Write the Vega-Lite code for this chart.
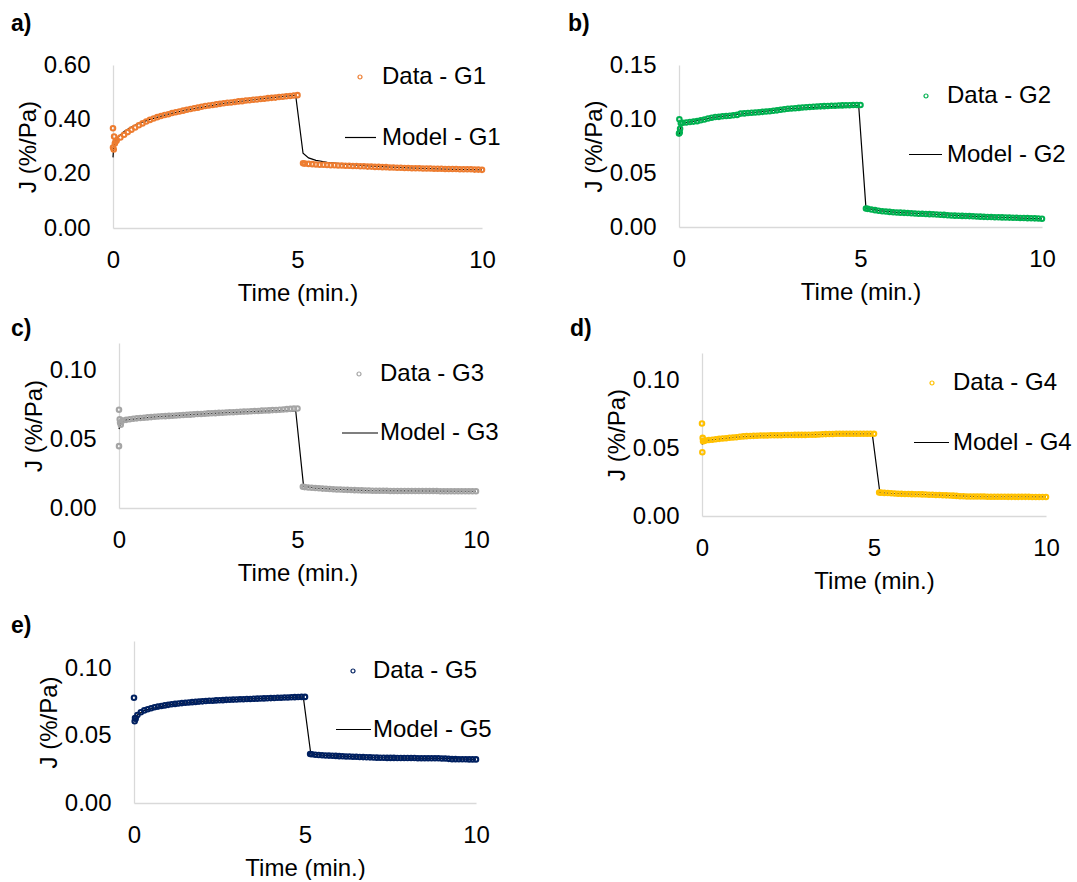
{
"$schema": "https://vega.github.io/schema/vega-lite/v6.json",
"padding": {"left": 11, "top": 13, "right": 0, "bottom": 0},
"datasets": {
"pa": [{"t":0,"j":0.367},{"t":0,"j":0.296},{"t":0.02,"j":0.289},{"t":0.03,"j":0.337},{"t":0.05,"j":0.311},{"t":0.07,"j":0.318},
{"t":0.1,"j":0.322},{"t":0.2,"j":0.333},{"t":0.3,"j":0.343},{"t":0.4,"j":0.353},{"t":0.5,"j":0.362},{"t":0.6,"j":0.370},{"t":0.7,"j":0.378},{"t":0.8,"j":0.385},{"t":0.9,"j":0.392},{"t":1.0,"j":0.398},
{"t":1.1,"j":0.403},{"t":1.2,"j":0.408},{"t":1.3,"j":0.412},{"t":1.4,"j":0.416},{"t":1.5,"j":0.419},{"t":1.6,"j":0.423},{"t":1.7,"j":0.426},{"t":1.8,"j":0.429},{"t":1.9,"j":0.432},{"t":2.0,"j":0.435},
{"t":2.1,"j":0.438},{"t":2.2,"j":0.441},{"t":2.3,"j":0.443},{"t":2.4,"j":0.446},{"t":2.5,"j":0.449},{"t":2.6,"j":0.451},{"t":2.7,"j":0.453},{"t":2.8,"j":0.455},{"t":2.9,"j":0.457},{"t":3.0,"j":0.459},
{"t":3.1,"j":0.461},{"t":3.2,"j":0.462},{"t":3.3,"j":0.464},{"t":3.4,"j":0.466},{"t":3.5,"j":0.467},{"t":3.6,"j":0.469},{"t":3.7,"j":0.470},{"t":3.8,"j":0.472},{"t":3.9,"j":0.473},{"t":4.0,"j":0.475},
{"t":4.1,"j":0.476},{"t":4.2,"j":0.478},{"t":4.3,"j":0.479},{"t":4.4,"j":0.480},{"t":4.5,"j":0.482},{"t":4.6,"j":0.483},{"t":4.7,"j":0.485},{"t":4.8,"j":0.486},{"t":4.9,"j":0.488},{"t":5.0,"j":0.489},
{"t":5.15,"j":0.238},{"t":5.2,"j":0.237},{"t":5.3,"j":0.236},{"t":5.4,"j":0.235},{"t":5.5,"j":0.234},{"t":5.6,"j":0.233},{"t":5.7,"j":0.233},{"t":5.8,"j":0.232},{"t":5.9,"j":0.231},{"t":6.0,"j":0.231},
{"t":6.1,"j":0.230},{"t":6.2,"j":0.230},{"t":6.3,"j":0.229},{"t":6.4,"j":0.229},{"t":6.5,"j":0.228},{"t":6.6,"j":0.228},{"t":6.7,"j":0.227},{"t":6.8,"j":0.227},{"t":6.9,"j":0.226},{"t":7.0,"j":0.226},
{"t":7.1,"j":0.225},{"t":7.2,"j":0.225},{"t":7.3,"j":0.224},{"t":7.4,"j":0.224},{"t":7.5,"j":0.223},{"t":7.6,"j":0.223},{"t":7.7,"j":0.222},{"t":7.8,"j":0.222},{"t":7.9,"j":0.221},{"t":8.0,"j":0.221},
{"t":8.1,"j":0.220},{"t":8.2,"j":0.220},{"t":8.3,"j":0.220},{"t":8.4,"j":0.219},{"t":8.5,"j":0.219},{"t":8.6,"j":0.219},{"t":8.7,"j":0.218},{"t":8.8,"j":0.218},{"t":8.9,"j":0.218},{"t":9.0,"j":0.217},
{"t":9.1,"j":0.217},{"t":9.2,"j":0.217},{"t":9.3,"j":0.217},{"t":9.4,"j":0.216},{"t":9.5,"j":0.216},{"t":9.6,"j":0.216},{"t":9.7,"j":0.216},{"t":9.8,"j":0.215},{"t":9.9,"j":0.215},{"t":10.0,"j":0.214}],
"ma": [{"t":0,"j":0.26},{"t":0.02,"j":0.30},{"t":0.1,"j":0.33},{"t":0.3,"j":0.355},{"t":0.5,"j":0.372},{"t":0.7,"j":0.385},{"t":1.0,"j":0.400},{"t":1.5,"j":0.419},{"t":2.0,"j":0.435},{"t":3.0,"j":0.459},{"t":4.0,"j":0.475},{"t":4.95,"j":0.489},{"t":5.15,"j":0.275},{"t":5.3,"j":0.258},{"t":5.5,"j":0.249},{"t":5.8,"j":0.242},{"t":6.2,"j":0.236},{"t":7.0,"j":0.228},{"t":8.0,"j":0.221},{"t":9.0,"j":0.217},{"t":10.0,"j":0.214}],
"pb": [{"t":0,"j":0.0865},{"t":0.01,"j":0.0998},{"t":0.02,"j":0.0875},{"t":0.03,"j":0.091},{"t":0.05,"j":0.096},
{"t":0.1,"j":0.0965},{"t":0.2,"j":0.0968},{"t":0.3,"j":0.0972},{"t":0.4,"j":0.0976},{"t":0.5,"j":0.098},{"t":0.6,"j":0.0988},{"t":0.7,"j":0.0995},{"t":0.8,"j":0.1005},{"t":0.9,"j":0.1012},{"t":1.0,"j":0.1018},
{"t":1.1,"j":0.102},{"t":1.2,"j":0.1025},{"t":1.3,"j":0.1028},{"t":1.4,"j":0.103},{"t":1.5,"j":0.1035},{"t":1.6,"j":0.1038},{"t":1.7,"j":0.105},{"t":1.8,"j":0.1052},{"t":1.9,"j":0.1055},{"t":2.0,"j":0.1058},
{"t":2.1,"j":0.106},{"t":2.2,"j":0.1063},{"t":2.3,"j":0.1066},{"t":2.4,"j":0.1069},{"t":2.5,"j":0.1072},{"t":2.6,"j":0.1076},{"t":2.7,"j":0.108},{"t":2.8,"j":0.1085},{"t":2.9,"j":0.109},{"t":3.0,"j":0.1095},
{"t":3.1,"j":0.1098},{"t":3.2,"j":0.11},{"t":3.3,"j":0.1103},{"t":3.4,"j":0.1106},{"t":3.5,"j":0.1109},{"t":3.6,"j":0.1111},{"t":3.7,"j":0.1113},{"t":3.8,"j":0.1115},{"t":3.9,"j":0.1117},{"t":4.0,"j":0.1119},
{"t":4.1,"j":0.112},{"t":4.2,"j":0.1122},{"t":4.3,"j":0.1123},{"t":4.4,"j":0.1125},{"t":4.5,"j":0.1126},{"t":4.6,"j":0.1127},{"t":4.7,"j":0.1128},{"t":4.8,"j":0.1129},{"t":4.9,"j":0.113},{"t":5.0,"j":0.113},
{"t":5.15,"j":0.0172},{"t":5.2,"j":0.0168},{"t":5.3,"j":0.0162},{"t":5.4,"j":0.0156},{"t":5.5,"j":0.0150},{"t":5.6,"j":0.0146},{"t":5.7,"j":0.0143},{"t":5.8,"j":0.0140},{"t":5.9,"j":0.0137},{"t":6.0,"j":0.0135},
{"t":6.1,"j":0.0133},{"t":6.2,"j":0.0131},{"t":6.3,"j":0.0129},{"t":6.4,"j":0.0127},{"t":6.5,"j":0.0125},{"t":6.6,"j":0.0123},{"t":6.7,"j":0.0122},{"t":6.8,"j":0.0120},{"t":6.9,"j":0.0119},{"t":7.0,"j":0.0118},
{"t":7.1,"j":0.0116},{"t":7.2,"j":0.0114},{"t":7.3,"j":0.0112},{"t":7.4,"j":0.0109},{"t":7.5,"j":0.0106},{"t":7.6,"j":0.0105},{"t":7.7,"j":0.0104},{"t":7.8,"j":0.0103},{"t":7.9,"j":0.0102},{"t":8.0,"j":0.0101},
{"t":8.1,"j":0.0100},{"t":8.2,"j":0.0098},{"t":8.3,"j":0.0096},{"t":8.4,"j":0.0094},{"t":8.5,"j":0.0093},{"t":8.6,"j":0.0092},{"t":8.7,"j":0.0091},{"t":8.8,"j":0.0090},{"t":8.9,"j":0.0089},{"t":9.0,"j":0.0088},
{"t":9.1,"j":0.0087},{"t":9.2,"j":0.0086},{"t":9.3,"j":0.0085},{"t":9.4,"j":0.0084},{"t":9.5,"j":0.0083},{"t":9.6,"j":0.0082},{"t":9.7,"j":0.0081},{"t":9.8,"j":0.0080},{"t":9.9,"j":0.0079},{"t":10.0,"j":0.0076}],
"mb": [{"t":0,"j":0.084},{"t":0.05,"j":0.094},{"t":0.2,"j":0.0967},{"t":1.0,"j":0.1018},{"t":2.0,"j":0.1058},{"t":3.0,"j":0.1095},{"t":4.0,"j":0.1112},{"t":4.95,"j":0.1125},{"t":5.15,"j":0.0177},{"t":5.5,"j":0.0152},{"t":6.0,"j":0.0135},{"t":7.0,"j":0.0118},{"t":8.0,"j":0.0101},{"t":9.0,"j":0.0088},{"t":10.0,"j":0.0076}],
"pc": [{"t":0,"j":0.0715},{"t":0,"j":0.045},{"t":0.02,"j":0.0646},{"t":0.03,"j":0.0622},{"t":0.05,"j":0.0605},
{"t":0.1,"j":0.0636},{"t":0.2,"j":0.0641},{"t":0.3,"j":0.0645},{"t":0.4,"j":0.0649},{"t":0.5,"j":0.0652},{"t":0.6,"j":0.0655},{"t":0.7,"j":0.0657},{"t":0.8,"j":0.0659},{"t":0.9,"j":0.0661},{"t":1.0,"j":0.0663},
{"t":1.1,"j":0.0665},{"t":1.2,"j":0.0667},{"t":1.3,"j":0.0668},{"t":1.4,"j":0.067},{"t":1.5,"j":0.0671},{"t":1.6,"j":0.0673},{"t":1.7,"j":0.0675},{"t":1.8,"j":0.0676},{"t":1.9,"j":0.0678},{"t":2.0,"j":0.0679},
{"t":2.1,"j":0.0681},{"t":2.2,"j":0.0683},{"t":2.3,"j":0.0684},{"t":2.4,"j":0.0686},{"t":2.5,"j":0.0688},{"t":2.6,"j":0.0689},{"t":2.7,"j":0.069},{"t":2.8,"j":0.0692},{"t":2.9,"j":0.0693},{"t":3.0,"j":0.0694},
{"t":3.1,"j":0.0696},{"t":3.2,"j":0.0697},{"t":3.3,"j":0.0698},{"t":3.4,"j":0.07},{"t":3.5,"j":0.0701},{"t":3.6,"j":0.0702},{"t":3.7,"j":0.0704},{"t":3.8,"j":0.0705},{"t":3.9,"j":0.0706},{"t":4.0,"j":0.0708},
{"t":4.1,"j":0.0709},{"t":4.2,"j":0.071},{"t":4.3,"j":0.0712},{"t":4.4,"j":0.0713},{"t":4.5,"j":0.0715},{"t":4.6,"j":0.0717},{"t":4.7,"j":0.0719},{"t":4.8,"j":0.0721},{"t":4.9,"j":0.0723},{"t":5.0,"j":0.0724},
{"t":5.15,"j":0.0155},{"t":5.2,"j":0.0152},{"t":5.3,"j":0.0149},{"t":5.4,"j":0.0147},{"t":5.5,"j":0.0145},{"t":5.6,"j":0.0143},{"t":5.7,"j":0.0141},{"t":5.8,"j":0.014},{"t":5.9,"j":0.0138},{"t":6.0,"j":0.0137},
{"t":6.1,"j":0.0135},{"t":6.2,"j":0.0134},{"t":6.3,"j":0.0133},{"t":6.4,"j":0.0132},{"t":6.5,"j":0.0131},{"t":6.6,"j":0.013},{"t":6.7,"j":0.0129},{"t":6.8,"j":0.0128},{"t":6.9,"j":0.0127},{"t":7.0,"j":0.0127},
{"t":7.1,"j":0.0126},{"t":7.2,"j":0.0126},{"t":7.3,"j":0.0125},{"t":7.4,"j":0.0125},{"t":7.5,"j":0.0125},{"t":7.6,"j":0.0124},{"t":7.7,"j":0.0124},{"t":7.8,"j":0.0124},{"t":7.9,"j":0.0124},{"t":8.0,"j":0.0124},
{"t":8.1,"j":0.0124},{"t":8.2,"j":0.0123},{"t":8.3,"j":0.0123},{"t":8.4,"j":0.0123},{"t":8.5,"j":0.0123},{"t":8.6,"j":0.0123},{"t":8.7,"j":0.0123},{"t":8.8,"j":0.0123},{"t":8.9,"j":0.0123},{"t":9.0,"j":0.0122},
{"t":9.1,"j":0.0122},{"t":9.2,"j":0.0122},{"t":9.3,"j":0.0122},{"t":9.4,"j":0.0122},{"t":9.5,"j":0.0122},{"t":9.6,"j":0.0122},{"t":9.7,"j":0.0122},{"t":9.8,"j":0.0122},{"t":9.9,"j":0.0122},{"t":10.0,"j":0.0122}],
"mc": [{"t":0,"j":0.0573},{"t":0.05,"j":0.062},{"t":0.2,"j":0.0641},{"t":1.0,"j":0.0663},{"t":2.0,"j":0.0679},{"t":3.0,"j":0.0694},{"t":4.0,"j":0.0705},{"t":4.8,"j":0.0708},{"t":4.95,"j":0.0707},{"t":5.17,"j":0.0159},{"t":5.5,"j":0.0145},{"t":6.0,"j":0.0137},{"t":7.0,"j":0.0127},{"t":8.0,"j":0.0124},{"t":10.0,"j":0.0122}],
"pd": [{"t":0,"j":0.0681},{"t":0.01,"j":0.0469},{"t":0.02,"j":0.0575},{"t":0.03,"j":0.055},{"t":0.05,"j":0.0553},
{"t":0.1,"j":0.0556},{"t":0.2,"j":0.0559},{"t":0.3,"j":0.0562},{"t":0.4,"j":0.0565},{"t":0.5,"j":0.0568},{"t":0.6,"j":0.0571},{"t":0.7,"j":0.0573},{"t":0.8,"j":0.0576},{"t":0.9,"j":0.0578},{"t":1.0,"j":0.058},
{"t":1.1,"j":0.0583},{"t":1.2,"j":0.0586},{"t":1.3,"j":0.0588},{"t":1.4,"j":0.0589},{"t":1.5,"j":0.059},{"t":1.6,"j":0.0591},{"t":1.7,"j":0.0592},{"t":1.8,"j":0.0592},{"t":1.9,"j":0.0593},{"t":2.0,"j":0.0594},
{"t":2.1,"j":0.0594},{"t":2.2,"j":0.0595},{"t":2.3,"j":0.0595},{"t":2.4,"j":0.0596},{"t":2.5,"j":0.0596},{"t":2.6,"j":0.0596},{"t":2.7,"j":0.0597},{"t":2.8,"j":0.0597},{"t":2.9,"j":0.0597},{"t":3.0,"j":0.0597},
{"t":3.1,"j":0.0598},{"t":3.2,"j":0.0598},{"t":3.3,"j":0.0599},{"t":3.4,"j":0.06},{"t":3.5,"j":0.0602},{"t":3.6,"j":0.0603},{"t":3.7,"j":0.0604},{"t":3.8,"j":0.0604},{"t":3.9,"j":0.0605},{"t":4.0,"j":0.0605},
{"t":4.1,"j":0.0605},{"t":4.2,"j":0.0605},{"t":4.3,"j":0.0605},{"t":4.4,"j":0.0606},{"t":4.5,"j":0.0606},{"t":4.6,"j":0.0606},{"t":4.7,"j":0.0606},{"t":4.8,"j":0.0606},{"t":4.9,"j":0.0606},{"t":5.0,"j":0.0605},
{"t":5.15,"j":0.0173},{"t":5.2,"j":0.0172},{"t":5.3,"j":0.017},{"t":5.4,"j":0.0169},{"t":5.5,"j":0.0167},{"t":5.6,"j":0.0166},{"t":5.7,"j":0.0164},{"t":5.8,"j":0.0163},{"t":5.9,"j":0.0162},{"t":6.0,"j":0.0162},
{"t":6.1,"j":0.0161},{"t":6.2,"j":0.016},{"t":6.3,"j":0.016},{"t":6.4,"j":0.0159},{"t":6.5,"j":0.0158},{"t":6.6,"j":0.0157},{"t":6.7,"j":0.0156},{"t":6.8,"j":0.0155},{"t":6.9,"j":0.0154},{"t":7.0,"j":0.0153},
{"t":7.1,"j":0.0152},{"t":7.2,"j":0.0151},{"t":7.3,"j":0.015},{"t":7.4,"j":0.0148},{"t":7.5,"j":0.0146},{"t":7.6,"j":0.0145},{"t":7.7,"j":0.0144},{"t":7.8,"j":0.0144},{"t":7.9,"j":0.0143},{"t":8.0,"j":0.0143},
{"t":8.1,"j":0.0143},{"t":8.2,"j":0.0143},{"t":8.3,"j":0.0142},{"t":8.4,"j":0.0142},{"t":8.5,"j":0.0142},{"t":8.6,"j":0.0142},{"t":8.7,"j":0.0142},{"t":8.8,"j":0.0142},{"t":8.9,"j":0.0141},{"t":9.0,"j":0.0141},
{"t":9.1,"j":0.0141},{"t":9.2,"j":0.0141},{"t":9.3,"j":0.0141},{"t":9.4,"j":0.0141},{"t":9.5,"j":0.0141},{"t":9.6,"j":0.014},{"t":9.7,"j":0.014},{"t":9.8,"j":0.014},{"t":9.9,"j":0.014},{"t":10.0,"j":0.014}],
"md": [{"t":0,"j":0.0526},{"t":0.05,"j":0.0553},{"t":0.2,"j":0.0559},{"t":1.0,"j":0.058},{"t":2.0,"j":0.0594},{"t":3.0,"j":0.0597},{"t":4.0,"j":0.0605},{"t":4.95,"j":0.0604},{"t":5.17,"j":0.0173},{"t":5.5,"j":0.0167},{"t":6.0,"j":0.0162},{"t":7.0,"j":0.0153},{"t":8.0,"j":0.0143},{"t":10.0,"j":0.0141}],
"pe": [{"t":0,"j":0.078},{"t":0.02,"j":0.0605},{"t":0.03,"j":0.063},{"t":0.05,"j":0.0625},
{"t":0.1,"j":0.0652},{"t":0.2,"j":0.0672},{"t":0.3,"j":0.0686},{"t":0.4,"j":0.0695},{"t":0.5,"j":0.0702},{"t":0.6,"j":0.0709},{"t":0.7,"j":0.0714},{"t":0.8,"j":0.0719},{"t":0.9,"j":0.0723},{"t":1.0,"j":0.0727},
{"t":1.1,"j":0.0731},{"t":1.2,"j":0.0734},{"t":1.3,"j":0.0737},{"t":1.4,"j":0.074},{"t":1.5,"j":0.0742},{"t":1.6,"j":0.0745},{"t":1.7,"j":0.0747},{"t":1.8,"j":0.0749},{"t":1.9,"j":0.0751},{"t":2.0,"j":0.0753},
{"t":2.1,"j":0.0755},{"t":2.2,"j":0.0757},{"t":2.3,"j":0.0758},{"t":2.4,"j":0.076},{"t":2.5,"j":0.0761},{"t":2.6,"j":0.0762},{"t":2.7,"j":0.0764},{"t":2.8,"j":0.0765},{"t":2.9,"j":0.0766},{"t":3.0,"j":0.0767},
{"t":3.1,"j":0.0768},{"t":3.2,"j":0.0769},{"t":3.3,"j":0.077},{"t":3.4,"j":0.0771},{"t":3.5,"j":0.0772},{"t":3.6,"j":0.0773},{"t":3.7,"j":0.0774},{"t":3.8,"j":0.0775},{"t":3.9,"j":0.0776},{"t":4.0,"j":0.0777},
{"t":4.1,"j":0.0778},{"t":4.2,"j":0.0779},{"t":4.3,"j":0.078},{"t":4.4,"j":0.0781},{"t":4.5,"j":0.0782},{"t":4.6,"j":0.0783},{"t":4.7,"j":0.0784},{"t":4.8,"j":0.0785},{"t":4.9,"j":0.0786},{"t":5.0,"j":0.0786},
{"t":5.15,"j":0.0363},{"t":5.2,"j":0.0361},{"t":5.3,"j":0.0358},{"t":5.4,"j":0.0356},{"t":5.5,"j":0.0354},{"t":5.6,"j":0.0352},{"t":5.7,"j":0.0351},{"t":5.8,"j":0.035},{"t":5.9,"j":0.0349},{"t":6.0,"j":0.0347},
{"t":6.1,"j":0.0346},{"t":6.2,"j":0.0345},{"t":6.3,"j":0.0344},{"t":6.4,"j":0.0343},{"t":6.5,"j":0.0342},{"t":6.6,"j":0.0341},{"t":6.7,"j":0.034},{"t":6.8,"j":0.0339},{"t":6.9,"j":0.0338},{"t":7.0,"j":0.0337},
{"t":7.1,"j":0.0336},{"t":7.2,"j":0.0335},{"t":7.3,"j":0.0335},{"t":7.4,"j":0.0334},{"t":7.5,"j":0.0334},{"t":7.6,"j":0.0334},{"t":7.7,"j":0.0333},{"t":7.8,"j":0.0333},{"t":7.9,"j":0.0333},{"t":8.0,"j":0.0333},
{"t":8.1,"j":0.0333},{"t":8.2,"j":0.0333},{"t":8.3,"j":0.0332},{"t":8.4,"j":0.0332},{"t":8.5,"j":0.0332},{"t":8.6,"j":0.0332},{"t":8.7,"j":0.0331},{"t":8.8,"j":0.0331},{"t":8.9,"j":0.0331},{"t":9.0,"j":0.033},
{"t":9.1,"j":0.0329},{"t":9.2,"j":0.0327},{"t":9.3,"j":0.0325},{"t":9.4,"j":0.0325},{"t":9.5,"j":0.0324},{"t":9.6,"j":0.0324},{"t":9.7,"j":0.0324},{"t":9.8,"j":0.0323},{"t":9.9,"j":0.0323},{"t":10.0,"j":0.0323}],
"me": [{"t":0,"j":0.0605},{"t":0.05,"j":0.0625},{"t":0.1,"j":0.0652},{"t":0.3,"j":0.0686},{"t":1.0,"j":0.0727},{"t":2.0,"j":0.0753},{"t":3.0,"j":0.0767},{"t":4.0,"j":0.0777},{"t":4.95,"j":0.0786},{"t":5.17,"j":0.0363},{"t":5.5,"j":0.0354},{"t":6.0,"j":0.0347},{"t":7.0,"j":0.0337},{"t":8.0,"j":0.0333},{"t":9.0,"j":0.033},{"t":10.0,"j":0.0323}]
},
"concat": [
{"concat": [
{"width": 369, "height": 163,
 "title": {"text": "a)", "dx": -102, "offset": 17},
 "layer": [
  {"data": {"name": "ma"}, "mark": {"type": "line", "strokeWidth": 1.2},
   "encoding": {
    "x": {"field": "t", "type": "quantitative", "scale": {"domain": [0, 10], "nice": false, "zero": false}, "axis": {"values": [0, 5, 10], "title": "Time (min.)"}},
    "y": {"field": "j", "type": "quantitative", "scale": {"domain": [0, 0.6], "nice": false}, "axis": {"values": [0, 0.2, 0.4, 0.6], "format": ".2f", "title": "J (%/Pa)"}},
    "stroke": {"datum": "Model - G1", "scale": {"range": ["#000000"]}, "legend": {"title": null, "orient": "none", "legendX": 231, "legendY": 56, "symbolType": "stroke", "symbolSize": 961, "symbolStrokeWidth": 1.2, "labelOffset": 5}}}},
  {"data": {"name": "pa"}, "mark": {"type": "point", "filled": false, "size": 20, "strokeWidth": 2.1, "opacity": 1},
   "encoding": {
    "x": {"field": "t", "type": "quantitative"},
    "y": {"field": "j", "type": "quantitative"},
    "color": {"datum": "Data - G1", "scale": {"range": ["#ED7D31"]}, "legend": {"title": null, "orient": "none", "legendX": 235, "legendY": 0, "symbolType": "circle", "symbolSize": 16, "symbolStrokeWidth": 1.2, "labelOffset": 10}}}}
 ]},
{"width": 363, "height": 162,
 "title": {"text": "b)", "dx": -111, "offset": 17},
 "layer": [
  {"data": {"name": "mb"}, "mark": {"type": "line", "strokeWidth": 1.2},
   "encoding": {
    "x": {"field": "t", "type": "quantitative", "scale": {"domain": [0, 10], "nice": false, "zero": false}, "axis": {"values": [0, 5, 10], "title": "Time (min.)"}},
    "y": {"field": "j", "type": "quantitative", "scale": {"domain": [0, 0.15], "nice": false}, "axis": {"values": [0, 0.05, 0.1, 0.15], "format": ".2f", "title": "J (%/Pa)"}},
    "stroke": {"datum": "Model - G2", "scale": {"range": ["#000000"]}, "legend": {"title": null, "orient": "none", "legendX": 229, "legendY": 72, "symbolType": "stroke", "symbolSize": 1089, "symbolStrokeWidth": 1.2, "labelOffset": 4}}}},
  {"data": {"name": "pb"}, "mark": {"type": "point", "filled": false, "size": 20, "strokeWidth": 2.1, "opacity": 1},
   "encoding": {
    "x": {"field": "t", "type": "quantitative"},
    "y": {"field": "j", "type": "quantitative"},
    "color": {"datum": "Data - G2", "scale": {"range": ["#00B050"]}, "legend": {"title": null, "orient": "none", "legendX": 235, "legendY": 19, "symbolType": "circle", "symbolSize": 16, "symbolStrokeWidth": 1.2, "labelOffset": 9}}}}
 ]}
], "columns": 2, "align": "none", "spacing": 67, "resolve": {"scale": {"color": "independent", "stroke": "independent"}, "legend": {"color": "independent", "stroke": "independent"}}},
{"concat": [
{"width": 363, "height": 165,
 "title": {"text": "c)", "dx": -102, "offset": 2},
 "layer": [
  {"data": {"name": "mc"}, "mark": {"type": "line", "strokeWidth": 1.2},
   "encoding": {
    "x": {"field": "t", "type": "quantitative", "scale": {"domain": [0, 10], "nice": false, "zero": false, "range": [6, 363]}, "axis": {"values": [0, 5, 10], "title": "Time (min.)"}},
    "y": {"field": "j", "type": "quantitative", "scale": {"domain": [0, 0.12], "nice": false}, "axis": {"values": [0, 0.05, 0.1], "format": ".2f", "title": "J (%/Pa)", "offset": -6}},
    "stroke": {"datum": "Model - G3", "scale": {"range": ["#000000"]}, "legend": {"title": null, "orient": "none", "legendX": 228, "legendY": 71, "symbolType": "stroke", "symbolSize": 1296, "symbolStrokeWidth": 1.2, "labelOffset": 1}}}},
  {"data": {"name": "pc"}, "mark": {"type": "point", "filled": false, "size": 20, "strokeWidth": 2.1, "opacity": 1},
   "encoding": {
    "x": {"field": "t", "type": "quantitative"},
    "y": {"field": "j", "type": "quantitative"},
    "color": {"datum": "Data - G3", "scale": {"range": ["#A5A5A5"]}, "legend": {"title": null, "orient": "none", "legendX": 234, "legendY": 19, "symbolType": "circle", "symbolSize": 16, "symbolStrokeWidth": 1.2, "labelOffset": 9}}}}
 ]},
{"width": 344, "height": 173,
 "title": {"text": "d)", "dx": -132, "offset": 2},
 "layer": [
  {"data": {"name": "md"}, "mark": {"type": "line", "strokeWidth": 1.2},
   "encoding": {
    "x": {"field": "t", "type": "quantitative", "scale": {"domain": [0, 10], "nice": false, "zero": false}, "axis": {"values": [0, 5, 10], "title": "Time (min.)"}},
    "y": {"field": "j", "type": "quantitative", "scale": {"domain": [0, 0.12], "nice": false, "range": [173, 10]}, "axis": {"values": [0, 0.05, 0.1], "format": ".2f", "title": "J (%/Pa)"}},
    "stroke": {"datum": "Model - G4", "scale": {"range": ["#000000"]}, "legend": {"title": null, "orient": "none", "legendX": 211, "legendY": 81, "symbolType": "stroke", "symbolSize": 1225, "symbolStrokeWidth": 1.2, "labelOffset": 3}}}},
  {"data": {"name": "pd"}, "mark": {"type": "point", "filled": false, "size": 20, "strokeWidth": 2.1, "opacity": 1},
   "encoding": {
    "x": {"field": "t", "type": "quantitative"},
    "y": {"field": "j", "type": "quantitative"},
    "color": {"datum": "Data - G4", "scale": {"range": ["#FFC000"]}, "legend": {"title": null, "orient": "none", "legendX": 218, "legendY": 28, "symbolType": "circle", "symbolSize": 16, "symbolStrokeWidth": 1.2, "labelOffset": 9}}}}
 ]}
], "columns": 2, "align": "none", "spacing": 71, "resolve": {"scale": {"color": "independent", "stroke": "independent"}, "legend": {"color": "independent", "stroke": "independent"}}},
{"width": 363, "height": 162,
 "title": {"text": ["", "e)"], "lineHeight": 9, "dx": -102, "offset": 3},
 "layer": [
  {"data": {"name": "me"}, "mark": {"type": "line", "strokeWidth": 1.2},
   "encoding": {
    "x": {"field": "t", "type": "quantitative", "scale": {"domain": [0, 10], "nice": false, "zero": false, "range": [21, 363]}, "axis": {"values": [0, 5, 10], "title": "Time (min.)"}},
    "y": {"field": "j", "type": "quantitative", "scale": {"domain": [0, 0.12], "nice": false}, "axis": {"values": [0, 0.05, 0.1], "format": ".2f", "title": "J (%/Pa)", "offset": -21}},
    "stroke": {"datum": "Model - G5", "scale": {"range": ["#000000"]}, "legend": {"title": null, "orient": "none", "legendX": 222, "legendY": 70, "symbolType": "stroke", "symbolSize": 1225, "symbolStrokeWidth": 1.2, "labelOffset": 1}}}},
  {"data": {"name": "pe"}, "mark": {"type": "point", "filled": false, "size": 20, "strokeWidth": 2.1, "opacity": 1},
   "encoding": {
    "x": {"field": "t", "type": "quantitative"},
    "y": {"field": "j", "type": "quantitative"},
    "color": {"datum": "Data - G5", "scale": {"range": ["#002060"]}, "legend": {"title": null, "orient": "none", "legendX": 228, "legendY": 18, "symbolType": "circle", "symbolSize": 16, "symbolStrokeWidth": 1.2, "labelOffset": 8}}}}
 ]}
],
"columns": 1, "align": "none", "spacing": 13,
"resolve": {"scale": {"color": "independent", "stroke": "independent"}, "legend": {"color": "independent", "stroke": "independent"}},
"config": {
 "font": "Liberation Sans",
 "background": "white",
 "view": {"stroke": null},
 "axis": {"domainColor": "#D9D9D9", "domainWidth": 1.3, "ticks": false, "tickSize": 0, "grid": false, "labelFont": "Liberation Sans", "labelFontSize": 24, "labelColor": "#000000", "labelFlush": false, "labelOverlap": false, "labelBound": false, "titleFont": "Liberation Sans", "titleFontSize": 24, "titleFontWeight": "normal", "titleColor": "#000000"},
 "axisX": {"labelPadding": 20, "titlePadding": 9},
 "axisY": {"labelPadding": 23, "titlePadding": 3},
 "legend": {"labelFont": "Liberation Sans", "labelFontSize": 24, "labelColor": "#000000", "padding": 0},
 "title": {"font": "Liberation Sans", "fontSize": 23, "fontWeight": "bold", "color": "#000000", "anchor": "start", "frame": "group"}
}
}
